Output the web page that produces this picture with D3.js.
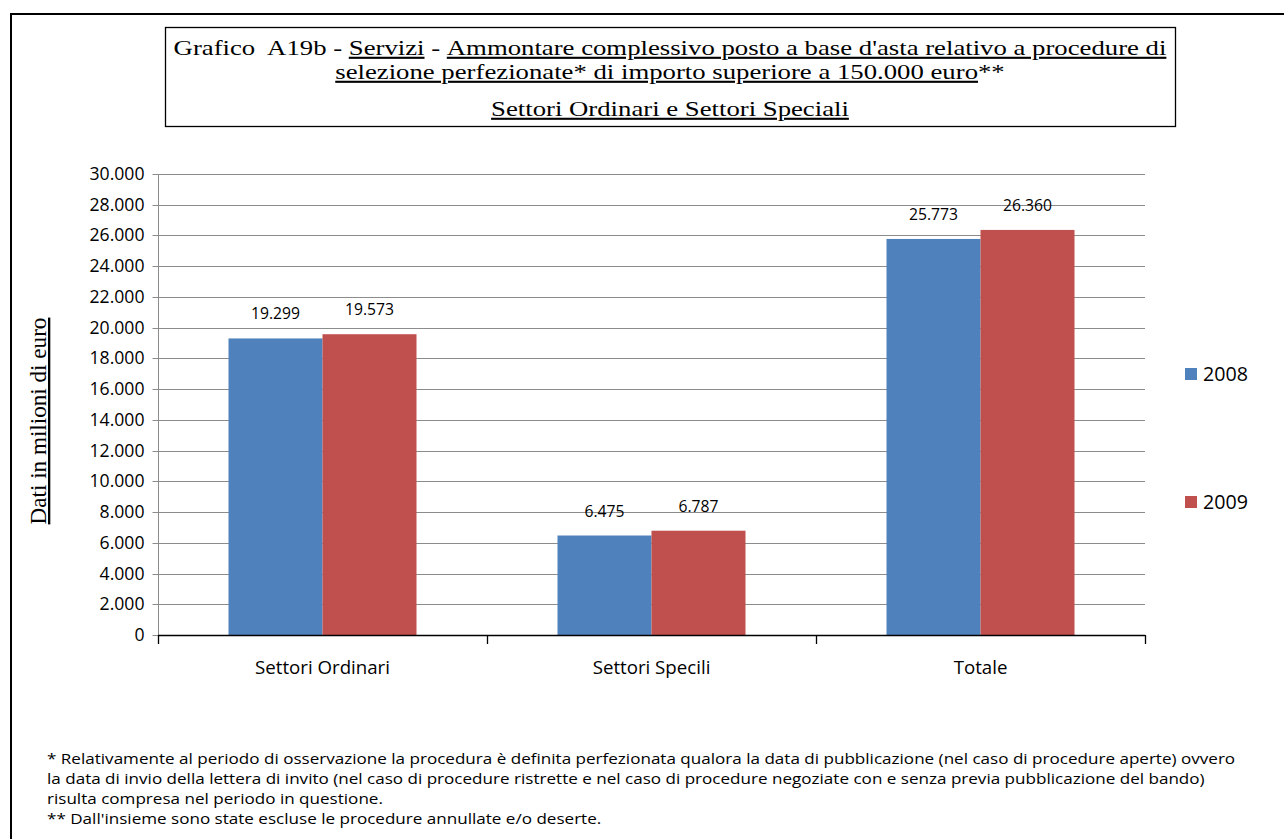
<!DOCTYPE html>
<html>
<head>
<meta charset="utf-8">
<script src="https://cdn.jsdelivr.net/npm/d3@7"></script>
<style>
  body, html { margin: 0; padding: 0; background: #fff; overflow: hidden; }
  svg { display: block; }
</style>
</head>
<body>
<div id="chart"></div>
<script>
// data
var categories = ["Settori Ordinari", "Settori Specili", "Totale"];
var years = ["2008", "2009"];
var values2008 = [19299, 6475, 25773];
var values2009 = [19573, 6787, 26360];
var yTicks = [0, 2000, 4000, 6000, 8000, 10000, 12000, 14000, 16000, 18000, 20000, 22000, 24000, 26000, 28000, 30000];
var notes = [
  "* Relativamente al periodo di osservazione la procedura è definita perfezionata qualora la data di pubblicazione (nel caso di procedure aperte) ovvero",
  "la data di invio della lettera di invito (nel caso di procedure ristrette e nel caso di procedure negoziate con e senza previa pubblicazione del bando)",
  "risulta compresa nel periodo in questione.",
  "** Dall'insieme sono state escluse le procedure annullate e/o deserte."
];
var colors = ["#4F81BD", "#C0504D"];

var W = 1284, H = 839;
var sans = "'Open Sans', Lato, sans-serif";
var serif = "'Liberation Serif', 'Times New Roman', serif";

var svg = d3.select("#chart").append("svg").attr("width", W).attr("height", H);

// set font size so that a text's width matches what the reference shows
function fitSize(sel, target) {
  var fs = parseFloat(sel.attr("font-size"));
  var w = sel.node().getBBox().width;
  if (w > 0) sel.attr("font-size", (fs * target / w).toFixed(2));
  return +sel.attr("font-size");
}
// horizontal stretch around ax, the reference text is a bit wider than our fonts
function stretch(sel, target, ax) {
  var w = sel.node().getBBox().width;
  var sx = w > 0 ? target / w : 1;
  sel.attr("transform", "translate(" + ax + ",0) scale(" + sx.toFixed(4) + ",1) translate(" + (-ax) + ",0)");
  return sx;
}

// outer frame (runs off the page at right and bottom)
svg.append("rect").attr("x", 11).attr("y", 14).attr("width", W + 20).attr("height", H + 20)
  .attr("fill", "none").attr("stroke", "#000").attr("stroke-width", 2);

// title box
svg.append("rect").attr("x", 165.5).attr("y", 27.5).attr("width", 1010).attr("height", 99)
  .attr("fill", "#fff").attr("stroke", "#000").attr("stroke-width", 1.3);

var title = svg.append("g").attr("font-family", serif).attr("fill", "#000");

function titleLine(y, parts) {
  var t = title.append("text").attr("x", 670).attr("y", y).attr("text-anchor", "middle")
    .attr("font-size", 21).attr("xml:space", "preserve");
  parts.forEach(function(p) {
    t.append("tspan").text(p[0]).attr("text-decoration", p[1] ? "underline" : null);
  });
  return t;
}
var t1 = titleLine(55, [["Grafico  A19b - ", false], ["Servizi", true], [" - ", false],
  ["Ammontare complessivo posto a base d'asta relativo a procedure di", true]]);
var sx = stretch(t1, 992, 670);
var t2 = titleLine(79, [["selezione perfezionate* di importo superiore a 150.000 euro", true], ["**", false]]);
t2.attr("transform", t1.attr("transform"));
var t3 = titleLine(116, [["Settori Ordinari e Settori Speciali", true]]);
t3.attr("transform", t1.attr("transform"));

// plot area
var plotLeft = 158, plotRight = 1145, plotTop = 174, plotBottom = 635;

var x0 = d3.scaleBand().domain(categories).range([plotLeft, plotRight]).paddingInner(0).paddingOuter(0);
var x1 = d3.scaleBand().domain(years).range([0, x0.bandwidth()]).paddingInner(0).paddingOuter(0.75);
var y = d3.scaleLinear().domain([0, 30000]).range([plotBottom, plotTop]);

var fmt = function(d) { return d3.format(",")(d).replace(/,/g, "."); };

// gridlines
svg.append("g").selectAll("line").data(yTicks.slice(1)).join("line")
  .attr("x1", plotLeft).attr("x2", plotRight)
  .attr("y1", function(d) { return Math.round(y(d)) + 0.5; })
  .attr("y2", function(d) { return Math.round(y(d)) + 0.5; })
  .attr("stroke", "#8c8c8c").attr("stroke-width", 1);

// y axis
var yAxis = d3.axisLeft(y).tickValues(yTicks).tickSize(6).tickPadding(8).tickFormat(fmt);
var ya = svg.append("g").attr("transform", "translate(" + (plotLeft + 0.5) + ",0)").call(yAxis);
ya.select(".domain").attr("stroke", "#8c8c8c").attr("d", "M0," + plotTop + "V" + plotBottom);
ya.selectAll(".tick line").attr("stroke", "#8c8c8c");
ya.selectAll(".tick text").attr("font-family", sans).attr("font-size", 14).attr("fill", "#000");
ya.selectAll(".tick").attr("transform", function(d) { return "translate(0," + (Math.round(y(d)) + 0.5) + ")"; });
var tickFs = fitSize(ya.selectAll(".tick text").filter(function(d) { return d === 30000; }), 55);
ya.selectAll(".tick text").attr("font-size", tickFs);

// bars
var series = [values2008, values2009];
var groups = svg.append("g").selectAll("g").data(categories).join("g")
  .attr("transform", function(d) { return "translate(" + x0(d) + ",0)"; });

groups.selectAll("rect").data(function(d, i) {
  return years.map(function(yr, j) { return { year: yr, value: series[j][i], c: colors[j] }; });
}).join("rect")
  .attr("x", function(d) { return x1(d.year); })
  .attr("width", x1.bandwidth())
  .attr("y", function(d) { return y(d.value); })
  .attr("height", function(d) { return plotBottom - y(d.value); })
  .attr("fill", function(d) { return d.c; });

var labels = groups.selectAll("text").data(function(d, i) {
  return years.map(function(yr, j) { return { year: yr, value: series[j][i] }; });
}).join("text")
  .attr("x", function(d) { return x1(d.year) + x1.bandwidth() / 2; })
  .attr("y", function(d) { return y(d.value) - 19; })
  .attr("text-anchor", "middle")
  .attr("font-family", sans).attr("font-size", 14).attr("fill", "#000")
  .text(function(d) { return fmt(d.value); });
var labFs = fitSize(d3.select(labels.nodes()[0]), 49);
labels.attr("font-size", labFs);

// x axis
var xAxis = d3.axisBottom(x0).tickSize(0).tickPadding(25);
var xa = svg.append("g").attr("transform", "translate(0," + (plotBottom + 0.5) + ")").call(xAxis);
xa.select(".domain").attr("stroke", "#000").attr("stroke-width", 1.3).attr("d", "M" + plotLeft + ",0H" + plotRight);
xa.selectAll(".tick text").attr("font-family", sans).attr("font-size", 15).attr("fill", "#000");
var catFs = fitSize(xa.selectAll(".tick text").filter(function(d) { return d === "Settori Ordinari"; }), 135);
xa.selectAll(".tick text").attr("font-size", catFs);
// category separators
svg.append("g").selectAll("line").data([0, 1, 2, 3]).join("line")
  .attr("x1", function(d) { return Math.round(plotLeft + d * x0.bandwidth()) + 0.5; })
  .attr("x2", function(d) { return Math.round(plotLeft + d * x0.bandwidth()) + 0.5; })
  .attr("y1", plotBottom).attr("y2", plotBottom + 9)
  .attr("stroke", "#000").attr("stroke-width", 1.3);

// y title
var yt = svg.append("text")
  .attr("transform", "translate(46,421) rotate(-90)")
  .attr("text-anchor", "middle")
  .attr("font-family", serif).attr("font-size", 19).attr("text-decoration", "underline")
  .text("Dati in milioni di euro");
fitSize(yt, 207);

// legend
var legend = svg.append("g").selectAll("g").data(years).join("g")
  .attr("transform", function(d, i) { return "translate(1185," + (i === 0 ? 368 : 496) + ")"; });
legend.append("rect").attr("width", 12).attr("height", 12).attr("fill", function(d, i) { return colors[i]; });
var legText = legend.append("text").attr("x", 18).attr("y", 13).attr("font-family", sans).attr("font-size", 19)
  .attr("fill", "#000").text(function(d) { return d; });
var legFs = fitSize(d3.select(legText.nodes()[0]), 45);
legText.attr("font-size", legFs);

// footnotes
var fn = svg.append("g").attr("font-family", sans).attr("font-size", 14.5).attr("fill", "#000");
fn.selectAll("text").data(notes).join("text")
  .attr("x", 47).attr("y", function(d, i) { return 764 + i * 20; })
  .text(function(d) { return d; });
stretch(d3.select(fn.selectAll("text").nodes()[0]), 1189, 47);
var fsx = fn.select("text").attr("transform");
fn.selectAll("text").attr("transform", fsx);
</script>
</body>
</html>
